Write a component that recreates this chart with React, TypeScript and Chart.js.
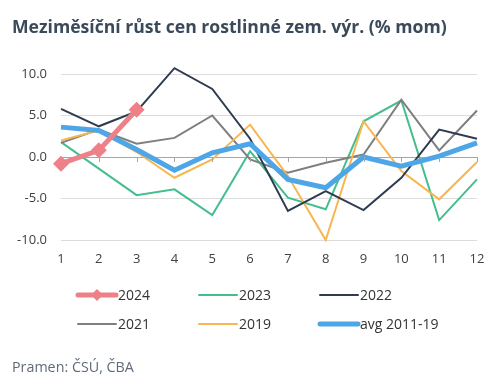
import React, { useEffect, useRef } from "react";
import { Chart, registerables } from "chart.js";

Chart.register(...registerables);

const months = ["1", "2", "3", "4", "5", "6", "7", "8", "9", "10", "11", "12"];
const s2024 = [-0.8, 0.8, 5.7, null, null, null, null, null, null, null, null, null];
const s2023 = [1.8, -1.4, -4.6, -3.9, -7.0, 0.7, -4.9, -6.3, 4.3, 6.8, -7.6, -2.7];
const s2022 = [5.8, 3.7, 5.5, 10.7, 8.2, 2.2, -6.5, -4.1, -6.4, -2.5, 3.3, 2.2];
const s2021 = [1.7, 3.3, 1.6, 2.3, 5.0, -0.3, -1.9, -0.7, 0.3, 6.9, 0.8, 5.6];
const s2019 = [2.0, 3.2, 0.6, -2.5, -0.3, 3.9, -2.3, -10.0, 4.3, -1.7, -5.1, -0.6];
const sAvg = [3.6, 3.2, 0.9, -1.6, 0.5, 1.6, -2.7, -3.7, 0.0, -1.1, 0.1, 1.7];
const yTicks = [-10, -5, 0, 5, 10];

const FONT = "'Open Sans', 'Liberation Sans', sans-serif";
const TEXT = "#404040";

const extrasPlugin = {
  id: "extras",
  afterDraw(chart: any) {
    const ctx = chart.ctx;
    const x = chart.scales.x;
    const y = chart.scales.y;
    ctx.save();
    // tick marks on the zero line
    const y0 = y.getPixelForValue(0);
    ctx.strokeStyle = "#A6A6A6";
    ctx.lineWidth = 1;
    for (let i = 0; i < months.length; i++) {
      const px = Math.round(x.getPixelForValue(i)) + 0.5;
      ctx.beginPath();
      ctx.moveTo(px, y0);
      ctx.lineTo(px, y0 + 5);
      ctx.stroke();
    }
    // title
    ctx.fillStyle = "#3B4A5A";
    ctx.font = `bold 17.6px ${FONT}`;
    ctx.textBaseline = "alphabetic";
    ctx.textAlign = "left";
    ctx.fillText("Meziměsíční růst cen rostlinné zem. výr. (% mom)", 12, 33);
    // legend
    const cols = [78, 199, 320];
    const rows = [295, 324];
    chart.data.datasets.forEach((ds: any, i: number) => {
      const cx = cols[i % 3];
      const cy = rows[Math.floor(i / 3)];
      ctx.strokeStyle = ds.borderColor;
      ctx.lineWidth = ds.legendWidth;
      ctx.lineCap = "round";
      ctx.beginPath();
      ctx.moveTo(cx, cy);
      ctx.lineTo(cx + 38, cy);
      ctx.stroke();
      if (ds.pointRadius > 0) {
        ctx.fillStyle = ds.borderColor;
        const r = 6;
        const mx = cx + 19;
        ctx.beginPath();
        ctx.moveTo(mx, cy - r);
        ctx.lineTo(mx + r, cy);
        ctx.lineTo(mx, cy + r);
        ctx.lineTo(mx - r, cy);
        ctx.closePath();
        ctx.fill();
      }
      ctx.fillStyle = "#333333";
      ctx.font = `14px ${FONT}`;
      ctx.textBaseline = "middle";
      ctx.fillText(ds.label, cx + 40, cy + 1);
    });
    // source
    ctx.fillStyle = "#5F6B78";
    ctx.font = `14.3px ${FONT}`;
    ctx.textBaseline = "middle";
    ctx.fillText("Pramen: ČSÚ, ČBA", 12, 368);
    ctx.restore();
  },
};

export default function App() {
  const ref = useRef<HTMLCanvasElement | null>(null);
  useEffect(() => {
    if (!ref.current) return;
    const mk = (label: string, data: any[], color: string, width: number, order: number, extra: any = {}) => ({
      label,
      data,
      borderColor: color,
      backgroundColor: color,
      borderWidth: width,
      legendWidth: width,
      pointRadius: 0,
      pointHoverRadius: 0,
      tension: 0,
      order,
      clip: false,
      ...extra,
    });
    const chart = new Chart(ref.current, {
      type: "line",
      data: {
        labels: months,
        datasets: [
          mk("2024", s2024, "#EE8088", 5, 0, { pointRadius: 8, pointStyle: "rectRot", pointBackgroundColor: "#EE8088", pointBorderWidth: 0 }),
          mk("2023", s2023, "#45BE8E", 2, 5),
          mk("2022", s2022, "#2F3C50", 2, 2),
          mk("2021", s2021, "#7F7F7F", 2, 4),
          mk("2019", s2019, "#F8B650", 2, 3),
          mk("avg 2011-19", sAvg, "#4FA6E6", 5, 1),
        ] as any,
      },
      options: {
        animation: false,
        responsive: false,
        maintainAspectRatio: false,
        layout: { padding: { top: 74, left: 0, right: 23, bottom: 115 } },
        plugins: { legend: { display: false }, title: { display: false }, tooltip: { enabled: false } },
        scales: {
          x: {
            offset: false,
            grid: { display: false, drawTicks: false },
            border: { display: false },
            ticks: { color: TEXT, font: { family: FONT, size: 13 }, padding: 11, maxRotation: 0, autoSkip: false },
            afterFit: (s: any) => { s.height = 30; },
          },
          y: {
            min: -10,
            max: 10,
            afterBuildTicks: (s: any) => { s.ticks = yTicks.map((v) => ({ value: v })); },
            grid: {
              drawTicks: false,
              color: (c: any) => (c.tick && c.tick.value === 0 ? "#A6A6A6" : "#DCDCDC"),
              lineWidth: 1,
            },
            border: { display: false },
            ticks: {
              color: TEXT,
              font: { family: FONT, size: 13 },
              padding: 14,
              callback: (v: any) => Number(v).toFixed(1),
            },
            afterFit: (s: any) => { s.width = 61; },
          },
        },
      },
      plugins: [extrasPlugin],
    });
    return () => chart.destroy();
  }, []);
  return (
    <div style={{ position: "fixed", left: 0, top: 0, width: 500, height: 385, background: "#fff" }}>
      <canvas ref={ref} width={500} height={385} style={{ width: 500, height: 385 }} />
    </div>
  );
}
